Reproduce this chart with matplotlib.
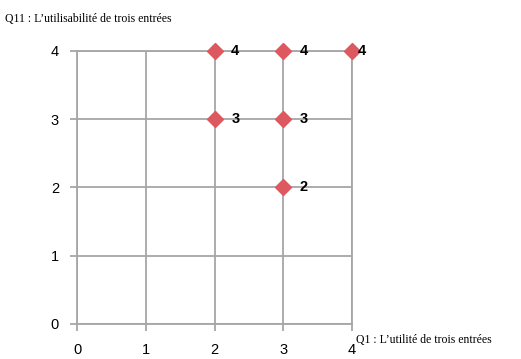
import matplotlib
matplotlib.use("Agg")
import matplotlib.pyplot as plt

# points (Q1 utilité, Q11 utilisabilité) and their labels
q1 = [2, 3, 4, 2, 3, 3]
q11 = [4, 4, 4, 3, 3, 2]
labels = ["4", "4", "4", "3", "3", "2"]
ticks = [0, 1, 2, 3, 4]

fig = plt.figure(figsize=(5.21, 3.59), dpi=100)
ax = fig.add_axes([0.1478, 0.0975, 0.528, 0.761])

grid_col = "#a6a6a6"
ax.set_xlim(0, 4)
ax.set_ylim(0, 4)
ax.set_xticks(ticks)
ax.set_yticks(ticks)
ax.grid(True, color=grid_col, linewidth=1.3)
for s in ax.spines.values():
    s.set_color(grid_col)
    s.set_linewidth(1.3)
ax.tick_params(colors=grid_col, length=5, width=1.3, labelcolor="black",
               labelsize=10.5)
ax.tick_params(axis="x", pad=9)
ax.tick_params(axis="y", pad=8)
for t in ax.get_xticklabels() + ax.get_yticklabels():
    t.set_fontfamily("Liberation Sans")

ax.plot(q1, q11, linestyle="none", marker="D", markersize=8,
        color="#dc5a5f", clip_on=False, zorder=3)
for x, y, lab in zip(q1, q11, labels):
    off = 4 if x == max(q1) else 12
    ax.annotate(lab, (x, y), xytext=(off, 0), textcoords="offset points",
                ha="left", va="center", fontsize=10.5, fontweight="bold",
                fontfamily="Liberation Sans", annotation_clip=False)

fig.text(0.01, 0.948, "Q11 : L\u2019utilisabilit\u00e9 de trois entr\u00e9es",
         fontsize=8.5, fontfamily="Liberation Serif", va="center")
fig.text(0.684, 0.052, "Q1 : L\u2019utilit\u00e9 de trois entr\u00e9es",
         fontsize=8.5, fontfamily="Liberation Serif", va="center")

fig.savefig("out.png", dpi=100)
